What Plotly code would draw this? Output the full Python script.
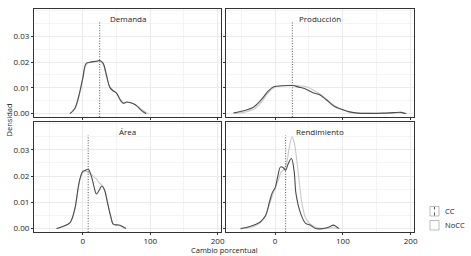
import plotly.graph_objects as go

# ---------------- data ----------------
panels = ["Demanda", "Producción", "Área", "Rendimiento"]
means = [25, 25.4, 7.9, 15.5]

dem_x_cc = [-19, -12, -5, 0, 5, 12, 20, 25, 30, 35, 40, 45, 50, 55, 60, 65, 70, 75, 80, 87, 94]
dem_y_cc = [0, 0.002, 0.008, 0.014, 0.0195, 0.0200, 0.0203, 0.0206, 0.0196, 0.0150, 0.0102, 0.0088,
            0.0080, 0.0055, 0.0040, 0.0045, 0.0043, 0.0038, 0.0030, 0.0012, 0]
dem_x_no = [-20, -12, -5, 0, 5, 12, 20, 25, 30, 35, 40, 45, 50, 55, 60, 65, 70, 75, 80, 88, 97]
dem_y_no = [0, 0.0018, 0.0075, 0.0135, 0.019, 0.0201, 0.0204, 0.0205, 0.0192, 0.0145, 0.0105, 0.009,
            0.0079, 0.0058, 0.0043, 0.0044, 0.0042, 0.0038, 0.0031, 0.0015, 0]

pro_x_cc = [-61, -45, -31, -20, -10, -2, 10, 25, 35, 45, 55, 65, 75, 87, 100, 110, 122, 140, 160, 175, 186, 193]
pro_y_cc = [0.0003, 0.0012, 0.0027, 0.0055, 0.0088, 0.0104, 0.0108, 0.0109, 0.0103, 0.0096, 0.0082,
            0.0074, 0.0055, 0.0029, 0.0015, 0.0007, 0.0002, 0.0001, 0.0002, 0.0004, 0.0005, 0]
pro_x_no = [-62, -45, -31, -20, -10, 0, 10, 25, 35, 45, 55, 65, 75, 87, 100, 110, 122, 140, 160, 175, 186, 195]
pro_y_no = [0.0001, 0.0006, 0.0018, 0.0045, 0.0082, 0.0103, 0.0108, 0.011, 0.0108, 0.0105, 0.0094,
            0.0078, 0.0058, 0.0032, 0.0015, 0.0006, 0.0002, 0.0001, 0.0001, 0.0003, 0.0004, 0]

are_x = [-39, -30, -19, -12, -5, 0, 4, 8, 13, 17, 20, 24, 28, 32, 36, 41, 45, 50, 55, 60, 64]
are_y_cc = [0, 0.0008, 0.0023, 0.0075, 0.0183, 0.0218, 0.0222, 0.0226, 0.0196, 0.0155, 0.0132, 0.0145,
            0.0162, 0.0148, 0.0105, 0.005, 0.0017, 0.0014, 0.0013, 0.0006, 0]
are_y_no = [0, 0.0007, 0.0022, 0.007, 0.0178, 0.0215, 0.0218, 0.0215, 0.0205, 0.0195, 0.019, 0.0175,
            0.0166, 0.015, 0.0108, 0.0052, 0.0018, 0.0014, 0.0012, 0.0005, 0]

ren_x_cc = [-51, -40, -30, -22, -14, -8, -4, 0, 4, 8, 12, 15.5, 19, 24, 28, 30.5, 34, 38, 45, 52, 60, 70, 80, 86, 91, 94.5]
ren_y_cc = [0, 0.0006, 0.0015, 0.0025, 0.005, 0.0105, 0.0138, 0.0155, 0.02, 0.0235, 0.0232, 0.0222, 0.0245,
            0.0267, 0.022, 0.0138, 0.009, 0.0055, 0.002, 0.0013, 0, 0, 0.0006, 0.0013, 0.0006, 0]
ren_x_no = [-45, -35, -25, -15, -8, -2, 4, 9, 13, 17, 21, 25, 28, 32, 36, 40, 45, 50, 55, 60, 65, 75, 85, 92]
ren_y_no = [0, 0.0006, 0.0016, 0.0045, 0.0095, 0.014, 0.018, 0.0215, 0.0225, 0.025, 0.031, 0.035, 0.033,
            0.026, 0.017, 0.009, 0.004, 0.0022, 0.0012, 0.0005, 0.0002, 0, 0.0003, 0]

series = [
    (dem_x_cc, dem_y_cc, dem_x_no, dem_y_no),
    (pro_x_cc, pro_y_cc, pro_x_no, pro_y_no),
    (are_x, are_y_cc, are_x, are_y_no),
    (ren_x_cc, ren_y_cc, ren_x_no, ren_y_no),
]

x_ticks = [0, 100, 200]
y_ticks = [0.00, 0.01, 0.02, 0.03]
y_tick_text = ["0.00", "0.01", "0.02", "0.03"]
legend_labels = ["CC", "NoCC"]

# ---------------- layout ----------------
W, H = 471, 256
FONT = "Open Sans"
CC_COL = "#4d4d4d"
NO_COL = "#c8c8c8"
VL_COL = "#555555"

xdoms = [(34 / W, 221 / W), (226 / W, 414 / W)]
ydoms = [((H - 117) / H, (H - 9) / H), ((H - 232) / H, (H - 122) / H)]
XR = [-72.5, 205]
YR = [-0.0013, 0.0406]
VTOP = 0.0355

fig = go.Figure()
layout = dict(width=W, height=H, margin=dict(l=0, r=0, t=0, b=0, autoexpand=False),
              paper_bgcolor="white", plot_bgcolor="white", showlegend=False,
              font=dict(family=FONT, size=8, color="#222"))
annotations = []
for i, name in enumerate(panels):
    row, col = divmod(i, 2)
    ax = "" if i == 0 else str(i + 1)
    xa, ya = "x" + ax, "y" + ax
    xc, yc, xn, yn = series[i]
    fig.add_trace(go.Scatter(x=xn, y=yn, mode="lines", line=dict(color=NO_COL, width=1.1, shape="spline"),
                             xaxis=xa, yaxis=ya, name="NoCC"))
    fig.add_trace(go.Scatter(x=xc, y=yc, mode="lines", line=dict(color=CC_COL, width=1.1, shape="spline"),
                             xaxis=xa, yaxis=ya, name="CC"))
    fig.add_trace(go.Scatter(x=[means[i], means[i]], y=[YR[0], VTOP], mode="lines",
                             line=dict(color=VL_COL, width=1, dash="1px,1.6px"), xaxis=xa, yaxis=ya))
    common = dict(showline=True, mirror=True, linecolor="#333", linewidth=1.2,
                  showgrid=True, gridcolor="#ebebeb", gridwidth=0.6, zeroline=False,
                  ticks="outside", ticklen=2, tickcolor="#333", tickwidth=0.8,
                  tickfont=dict(family=FONT, size=8, color="#222"))
    layout["xaxis" + ax] = dict(domain=xdoms[col], range=XR, anchor=ya, tickvals=x_ticks,
                                showticklabels=(row == 1), ticklabelstandoff=-1,
                                minor=dict(dtick=50, tick0=-50, showgrid=True, gridcolor="#f4f4f4", gridwidth=0.5),
                                **common)
    layout["yaxis" + ax] = dict(domain=ydoms[row], range=YR, anchor=xa, tickvals=y_ticks, ticktext=y_tick_text,
                                showticklabels=(col == 0),
                                minor=dict(dtick=0.005, tick0=0.005, showgrid=True, gridcolor="#f4f4f4", gridwidth=0.5),
                                **common)
    annotations.append(dict(text=name, xref="x" + ax + " domain", yref="y" + ax + " domain",
                            x=0.5, y=0.985, xanchor="center", yanchor="top", showarrow=False,
                            font=dict(family=FONT, size=8, color="#222")))

annotations.append(dict(text="Cambio porcentual", xref="paper", yref="paper", x=224 / W, y=(H - 250) / H,
                        xanchor="center", yanchor="middle", showarrow=False,
                        font=dict(family=FONT, size=7.5, color="#222")))
annotations.append(dict(text="Densidad", xref="paper", yref="paper", x=8 / W, y=(H - 120.5) / H,
                        xanchor="center", yanchor="middle", textangle=-90, showarrow=False,
                        font=dict(family=FONT, size=7.5, color="#222")))

# legend (manual)
shapes = []
key_tops = [206.5, 220.5]
for j, lab in enumerate(legend_labels):
    t = key_tops[j]
    shapes.append(dict(type="rect", xref="paper", yref="paper", x0=430 / W, x1=439 / W,
                       y0=(H - t - 9.5) / H, y1=(H - t) / H, line=dict(color="#aaaaaa", width=0.8),
                       fillcolor="white"))
    if j == 0:
        shapes.append(dict(type="line", xref="paper", yref="paper", x0=434.5 / W, x1=434.5 / W,
                           y0=(H - t - 9) / H, y1=(H - t - 0.5) / H, line=dict(color="#555", width=1, dash="dot")))
    annotations.append(dict(text=lab, xref="paper", yref="paper", x=443 / W, y=(H - t - 4.75) / H,
                            xanchor="left", yanchor="middle", showarrow=False,
                            font=dict(family=FONT, size=7.5, color="#222")))

layout["annotations"] = annotations
layout["shapes"] = shapes
fig.update_layout(**layout)
fig.write_html("out.html", config={"displayModeBar": False},
               post_script="document.body.style.margin='0';document.body.style.overflow='hidden';")
